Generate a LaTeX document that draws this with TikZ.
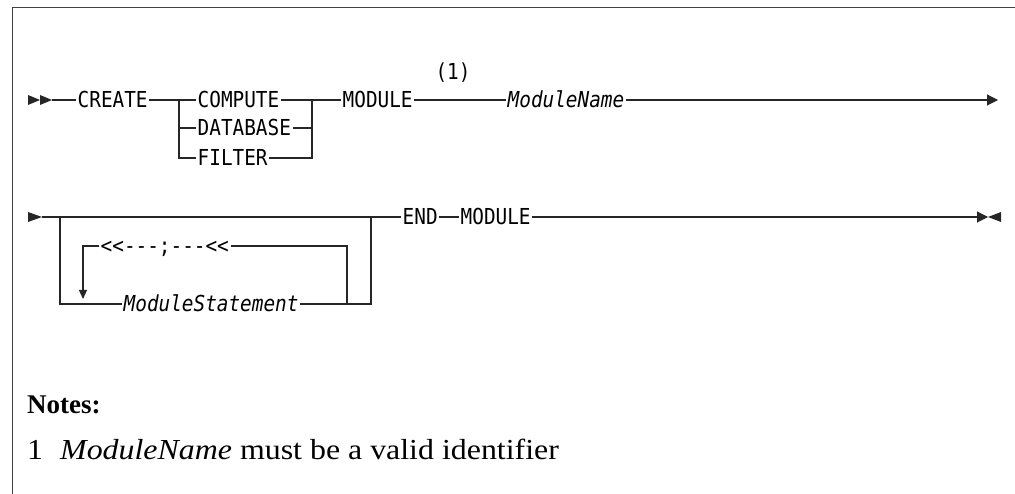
\documentclass[tikz,border=0pt]{standalone}
\usepackage{fontspec}
\setmainfont{Liberation Serif}
\newfontfamily\notefont[FakeStretch=1.1]{Liberation Serif}
\newfontfamily\rrfont[FakeStretch=0.88]{DejaVu Sans Mono}
\usetikzlibrary{arrows.meta}

\begin{document}
\begin{tikzpicture}[line join=miter,x=1pt,y=-1pt,
    kw/.style={inner xsep=1.5pt,inner ysep=0pt,anchor=west,text height=16pt,text depth=0pt,
        font=\rrfont\fontsize{22}{26}\selectfont},
    var/.style={kw,font=\rrfont\itshape\fontsize{22}{26}\selectfont},
    rr/.style={line width=1.1pt,black!85},
    tip/.style={-{Triangle[length=11pt,width=11pt]}},
    dtip/.style={-{Triangle[length=9pt,width=8pt]}},
    note/.style={inner sep=0pt,anchor=base west,font=\notefont\fontsize{29}{33}\selectfont}]
    \useasboundingbox (0,0) rectangle (1015,494);
    \def\ya{100} % first line
    \def\yb{217} % second line
    \def\yc{304} % loop
    \def\yd{246} % repeat separator
    \draw[line width=1.6pt,black!75] (1015,7.5) -- (12.5,7.5) -- (12.5,494);
    % --- CREATE ... MODULE ModuleName
    \fill[black!85] (28,95) -- (40,\ya) -- (28,105) -- cycle (40,95) -- (52,\ya) -- (40,105) -- cycle;
    \coordinate (s1) at (52,\ya);
    \node[kw] (create) at (76,\ya) {CREATE};
    \coordinate (j1) at (179,\ya);
    \coordinate (j2) at (312,\ya);
    \node[kw] (compute) at (196,\ya) {COMPUTE};
    \node[kw] (database) at (196,128) {DATABASE};
    \node[kw] (filter) at (196,158) {FILTER};
    \node[kw] (module) at (341,\ya) {MODULE};
    \node[kw,anchor=center] (ref1) at (453,72) {(1)};
    \node[var] (mname) at (506,\ya) {ModuleName};
    \coordinate (e1) at (998,\ya);
    \draw[rr] (s1) -- (create.west);
    \draw[rr] (create.east) -- (compute.west);
    \draw[rr] (j1) |- (filter.west);
    \draw[rr] (database -| j1) -- (database.west);
    \draw[rr] (compute.east) -- (module.west);
    \draw[rr] (database.east) -- (database -| j2);
    \draw[rr] (filter.east) -| (j2);
    \draw[rr] (module.east) -- (mname.west);
    \draw[rr,tip] (mname.east) -- (e1);
    % --- ModuleStatement loop, END MODULE
    \fill[black!85] (28,212) -- (42,\yb) -- (28,222) -- cycle;
    \coordinate (s2) at (42,\yb);
    \coordinate (l1) at (60,\yb);
    \coordinate (r1) at (371,\yb);
    \coordinate (r2) at (347,\yc);
    \coordinate (d1) at (83,299);
    \node[var] (mstmt) at (122,\yc) {ModuleStatement};
    \node[kw] (sep) at (99,\yd) {<<---;---<<};
    \node[kw] (endkw) at (401,\yb) {END};
    \node[kw] (module2) at (459,\yb) {MODULE};
    \coordinate (e2) at (988,\yb);
    \draw[rr] (s2) -- (endkw.west);
    \draw[rr] (l1) |- (mstmt.west);
    \draw[rr] (mstmt.east) -| (r1);
    \draw[rr] (r2) |- (sep.east);
    \draw[rr,dtip] (sep.west) -| (d1);
    \draw[rr] (endkw.east) -- (module2.west);
    \draw[rr,tip] (module2.east) -- (e2);
    \fill[black!85] (1001,212) -- (e2) -- (1001,222) -- cycle;
    % --- notes
    \node[note,font=\bfseries\fontsize{27}{32}\selectfont] (notes) at (27,413) {Notes:};
    \node[note] (n1) at (27,459) {1};
    \node[note] (n1txt) at (60,459) {\textit{ModuleName} must be a valid identifier};
\end{tikzpicture}
\end{document}
